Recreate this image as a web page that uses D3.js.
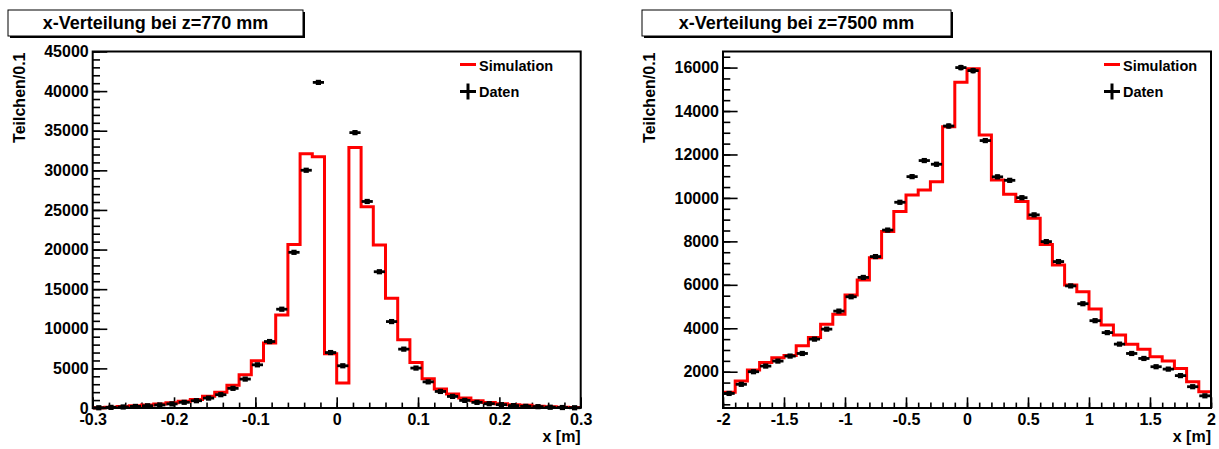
<!DOCTYPE html>
<html>
<head>
<meta charset="utf-8">
<title>x-Verteilung</title>
<script src="https://d3js.org/d3.v7.min.js"></script>
<style>
body { margin: 0; background: #fff; }
svg text { font-family: "Liberation Sans", Arial, Helvetica, sans-serif; font-weight: bold; fill: #000; }
</style>
</head>
<body>
<div id="container"></div>
<script>
//-----------------------------DATA-----------------------------//
const nBins = 40;

// z = 770 mm, bins of 0.015 m
const nahRange = [-0.3, 0.3];
const nahSimulation = [40, 100, 180, 280, 380, 500, 650, 850, 1080, 1480, 1980, 2880, 4200, 5950, 8200,
    11750, 20650, 32100, 31700, 6850, 3150, 32870, 25400, 20570, 13850, 8600, 5750, 3700, 2400, 1760,
    1260, 920, 710, 540, 420, 340, 210, 170, 100, 60];
const nahDaten = [30, 80, 130, 200, 280, 380, 520, 720, 920, 1250, 1680, 2480, 3650, 5450, 8390,
    12470, 19650, 30010, 41100, 7000, 5330, 34760, 26070, 17200, 10910, 7430, 5040, 3300, 2090, 1460,
    960, 710, 540, 420, 300, 210, 170, 100, 60, 30];
const nahXTicks = [-0.3, -0.2, -0.1, 0, 0.1, 0.2, 0.3];
const nahYTicks = [0, 5000, 10000, 15000, 20000, 25000, 30000, 35000, 40000, 45000];

// z = 7500 mm, bins of 0.1 m
const fernRange = [-2, 2];
const fernSimulation = [1050, 1570, 2080, 2430, 2640, 2750, 3200, 3580, 4180, 4640, 5530, 6220, 7250,
    8450, 9370, 10140, 10370, 10750, 13280, 15330, 15950, 12900, 10820, 10170, 9830, 9060, 7860, 6910,
    5990, 5680, 4890, 4150, 3690, 3270, 3040, 2690, 2490, 2150, 1540, 1080];
const fernDaten = [1000, 1420, 2000, 2260, 2490, 2720, 2840, 3500, 3960, 4790, 5450, 6340, 7300, 8520,
    9800, 10980, 11720, 11550, 13310, 16000, 15860, 12640, 10970, 10810, 10010, 9220, 7990, 7070, 5950,
    5130, 4350, 3800, 3270, 2840, 2610, 2230, 2120, 1820, 1310, 890];
const fernXTicks = [-2, -1.5, -1, -0.5, 0, 0.5, 1, 1.5, 2];
const fernYTicks = [2000, 4000, 6000, 8000, 10000, 12000, 14000, 16000];

//-----------------------------SVG------------------------------//
const width = 1219;
const height = 449;
const svg = d3.select("div#container").append("svg")
    .attr("width", width)
    .attr("height", height);

function draw(p) {
    const g = svg.append("g");

    //----------------------------SCALES----------------------------//
    const xScale = d3.scaleLinear().domain(p.range).range([p.left, p.right]);
    const yScale = d3.scaleLinear().domain(p.yDomain).range([p.bottom, p.top]);
    const binW = (p.range[1] - p.range[0]) / nBins;
    const edges = d3.range(nBins + 1).map(i => p.range[0] + i * binW);

    //---------------------------TITLE------------------------------//
    g.append("rect")
        .attr("x", p.titleBox[0] + 2).attr("y", 12)
        .attr("width", p.titleBox[1] - p.titleBox[0]).attr("height", 26)
        .attr("fill", "#000");
    g.append("rect")
        .attr("x", p.titleBox[0]).attr("y", 10)
        .attr("width", p.titleBox[1] - p.titleBox[0]).attr("height", 26)
        .attr("fill", "#fff").attr("stroke", "#000").attr("stroke-width", 1);
    g.append("text")
        .attr("x", (p.titleBox[0] + p.titleBox[1]) / 2).attr("y", 29)
        .attr("text-anchor", "middle")
        .style("font-size", "18px")
        .text(p.title);

    //-----------------------------AXES-----------------------------//
    const yMinor = d3.range(Math.ceil(p.yDomain[0] / p.yMinorStep), Math.floor(p.yDomain[1] / p.yMinorStep) + 1)
        .map(i => i * p.yMinorStep);
    const xMinor = d3.range(Math.round((p.range[1] - p.range[0]) / p.xMinorStep) + 1)
        .map(i => p.range[0] + i * p.xMinorStep);

    g.append("g")
        .attr("transform", "translate(" + p.left + ",0)")
        .call(d3.axisLeft(yScale).tickValues(yMinor).tickFormat("").tickSizeInner(-7.3).tickSizeOuter(0));
    g.append("g")
        .attr("class", "yaxis")
        .attr("transform", "translate(" + p.left + ",0)")
        .call(d3.axisLeft(yScale).tickValues(p.yTicks).tickSizeInner(-14.6).tickSizeOuter(0).tickPadding(4)
            .tickFormat(d => String(d)));
    g.append("g")
        .attr("transform", "translate(0," + p.bottom + ")")
        .call(d3.axisBottom(xScale).tickValues(xMinor).tickFormat("").tickSizeInner(-5.4).tickSizeOuter(0));
    g.append("g")
        .attr("class", "xaxis")
        .attr("transform", "translate(0," + p.bottom + ")")
        .call(d3.axisBottom(xScale).tickValues(p.xTicks).tickSizeInner(-10.7).tickSizeOuter(0).tickPadding(5.5)
            .tickFormat(d => String(d)));

    g.selectAll(".domain").remove();
    g.selectAll(".tick line").attr("stroke", "#000").attr("stroke-width", 1.6);
    g.selectAll(".tick text")
        .attr("font-family", null).attr("font-size", null)
        .style("font-size", "16px");

    // axis titles
    g.append("text")
        .attr("x", p.right).attr("y", 442)
        .attr("text-anchor", "end")
        .style("font-size", "16px")
        .text("x [m]");
    g.append("text")
        .attr("transform", "translate(" + p.yTitleX + "," + (p.top + 1) + ") rotate(-90)")
        .attr("text-anchor", "end")
        .style("font-size", "16px")
        .text("Teilchen/0.1");

    //--------------------------SIMULATION--------------------------//
    const steps = p.sim.map((v, i) => ({x: edges[i], v: v}));
    steps.push({x: edges[nBins], v: p.sim[nBins - 1]});
    const line = d3.line()
        .curve(d3.curveStepAfter)
        .x(d => xScale(d.x))
        .y(d => yScale(d.v));
    g.append("path")
        .attr("d", line(steps))
        .attr("fill", "none")
        .attr("stroke", "#ff0000")
        .attr("stroke-width", 3);

    //----------------------------DATEN-----------------------------//
    const pts = g.selectAll(".punkt")
        .data(p.daten.map((v, i) => ({lo: edges[i], hi: edges[i + 1], v: v})))
        .enter().append("g")
        .attr("class", "punkt");
    pts.append("line")
        .attr("x1", d => xScale(d.lo) + 0.5).attr("x2", d => xScale(d.hi) - 0.5)
        .attr("y1", d => yScale(d.v)).attr("y2", d => yScale(d.v))
        .attr("stroke", "#000").attr("stroke-width", 2.8);
    pts.append("line")
        .attr("x1", d => xScale((d.lo + d.hi) / 2)).attr("x2", d => xScale((d.lo + d.hi) / 2))
        .attr("y1", d => yScale(d.v - Math.sqrt(d.v))).attr("y2", d => yScale(d.v + Math.sqrt(d.v)))
        .attr("stroke", "#000").attr("stroke-width", 2.8);
    pts.append("rect")
        .attr("x", d => xScale((d.lo + d.hi) / 2) - 2.6).attr("y", d => yScale(d.v) - 2.6)
        .attr("width", 5.2).attr("height", 5.2)
        .attr("fill", "#000");

    //----------------------------FRAME-----------------------------//
    g.append("rect")
        .attr("x", p.left).attr("y", p.top)
        .attr("width", p.right - p.left).attr("height", p.bottom - p.top)
        .attr("fill", "none").attr("stroke", "#000").attr("stroke-width", 2);

    //----------------------------LEGEND----------------------------//
    const lx = p.legendX;
    g.append("line")
        .attr("x1", lx).attr("x2", lx + 16).attr("y1", 64.5).attr("y2", 64.5)
        .attr("stroke", "#ff0000").attr("stroke-width", 3);
    g.append("text")
        .attr("x", lx + 19).attr("y", 71)
        .style("font-size", "14.5px")
        .text("Simulation");
    g.append("line")
        .attr("x1", lx).attr("x2", lx + 16).attr("y1", 91.5).attr("y2", 91.5)
        .attr("stroke", "#000").attr("stroke-width", 3);
    g.append("line")
        .attr("x1", lx + 8).attr("x2", lx + 8).attr("y1", 83.5).attr("y2", 99.5)
        .attr("stroke", "#000").attr("stroke-width", 3);
    g.append("text")
        .attr("x", lx + 19).attr("y", 96.5)
        .style("font-size", "14.5px")
        .text("Daten");
}

draw({
    title: "x-Verteilung bei z=770 mm",
    titleBox: [8, 303],
    range: nahRange, sim: nahSimulation, daten: nahDaten,
    xTicks: nahXTicks, yTicks: nahYTicks,
    yDomain: [0, 45000], yMinorStep: 1000, xMinorStep: 0.02,
    left: 92.7, right: 580.7, top: 51.5, bottom: 408,
    yTitleX: 25, legendX: 460
});

draw({
    title: "x-Verteilung bei z=7500 mm",
    titleBox: [642, 951],
    range: fernRange, sim: fernSimulation, daten: fernDaten,
    xTicks: fernXTicks, yTicks: fernYTicks,
    yDomain: [330, 16740], yMinorStep: 500, xMinorStep: 0.1,
    left: 723, right: 1211, top: 51.5, bottom: 408,
    yTitleX: 655, legendX: 1104
});
</script>
</body>
</html>
